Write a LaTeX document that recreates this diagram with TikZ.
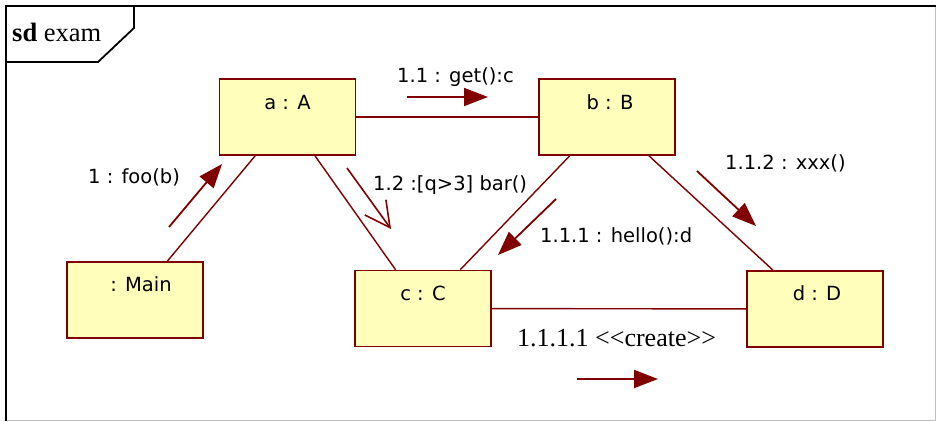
\documentclass[tikz,border=0pt]{standalone}
\usepackage{fontspec}
\setmainfont{Liberation Serif}
\newfontfamily\uisans{DejaVu Sans}
\usetikzlibrary{arrows.meta}
\definecolor{dr}{HTML}{800000}
\definecolor{yel}{HTML}{FFFFBB}
\definecolor{lgray}{HTML}{C0C0C0}
\tikzset{
  objbox/.style={draw=dr, fill=yel, line width=1.6pt, minimum width=136pt, minimum height=76pt, inner sep=0pt},
  objname/.style={font=\uisans\fontsize{19.5}{22}\selectfont, inner sep=0pt},
  msg/.style={font=\uisans\fontsize{19.5}{22}\selectfont, inner sep=0pt, anchor=west},
  link/.style={draw=dr, line width=1.4pt},
  msgarrow/.style={draw=dr, line width=1.8pt, -{Triangle[length=24pt,width=18pt]}, fill=dr},
  msgopen/.style={draw=dr, line width=1.6pt, -{Straight Barb[length=25pt,width=26pt]}},
  frameline/.style={draw=black, line width=1.8pt}
}
\begin{document}
\begin{tikzpicture}[x=1pt,y=-1pt]
\useasboundingbox (0,0) rectangle (936,421);
\fill[white] (0,0) rectangle (936,421);
% frame
\draw[lgray, line width=1pt] (935,6) -- (935,420) -- (6,420);
\draw[frameline] (936,6) -- (6,6) -- (6,421);
\draw[frameline] (6,62) -- (98,62) -- (134,28) -- (134,6);
\node[anchor=west, inner sep=0pt, font=\fontsize{26.5}{29}\selectfont] (title) at (12,32) {\textbf{sd} exam};
% objects
\node[objbox] (a) at (287.5,117) {};
\node[objbox] (b) at (607,117) {};
\node[objbox] (m) at (135,300) {};
\node[objbox] (c) at (423,308.5) {};
\node[objbox] (d) at (815,309) {};
\node[objname] (an) at (287.5,103) {a : A};
\node[objname] (bn) at (610,102) {b : B};
\node[objname] (mn) at (141,284) {: Main};
\node[objname] (cn) at (423,293) {c : C};
\node[objname] (dn) at (817,293) {d : D};
% links
\draw[link] (m) -- (a);
\draw[link] (a) -- (b);
\draw[link] (a) -- (c);
\draw[link] (b) -- (c);
\draw[link] (b) -- (d);
\draw[link] (c) -- (d);
% message arrows
\coordinate (f1) at (169,227); \coordinate (f2) at (222,164);
\coordinate (g1) at (407,97); \coordinate (g2) at (488,97);
\coordinate (r1) at (347,168); \coordinate (r2) at (391,229);
\coordinate (h1) at (556,199); \coordinate (h2) at (498,255);
\coordinate (x1) at (697,171); \coordinate (x2) at (756,226);
\coordinate (k1) at (577,379); \coordinate (k2) at (658,379);
\draw[msgarrow] (f1) -- (f2);
\draw[msgarrow] (g1) -- (g2);
\draw[msgopen] (r1) -- (r2);
\draw[msgarrow] (h1) -- (h2);
\draw[msgarrow] (x1) -- (x2);
\draw[msgarrow] (k1) -- (k2);
% message labels
\node[msg] (lf) at (88,177) {1 : foo(b)};
\node[msg] (lg) at (397,77) {1.1 : get():c};
\node[msg] (lr) at (373,185) {1.2 :[q>3] bar()};
\node[msg] (lh) at (540,236) {1.1.1 : hello():d};
\node[msg] (lx) at (725,163) {1.1.2 : xxx()};
\node[anchor=west, inner sep=0pt, font=\fontsize{26}{29}\selectfont] (lk) at (517,338) {1.1.1.1 <{}<create>{}>};
\end{tikzpicture}
\end{document}
